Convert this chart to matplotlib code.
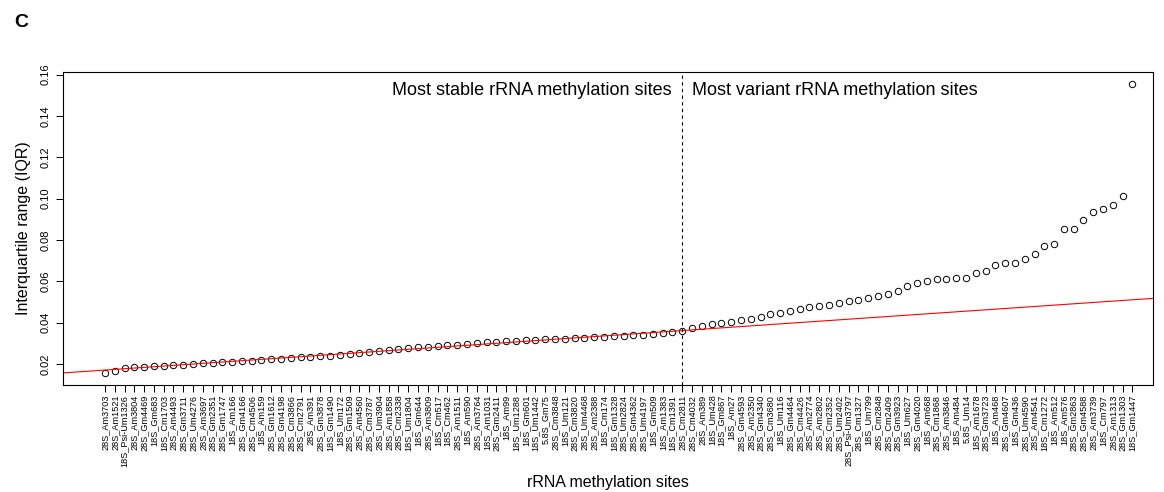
import matplotlib
matplotlib.use("Agg")
import matplotlib.pyplot as plt
import numpy as np

plt.rcParams['font.family'] = ['Liberation Sans', 'DejaVu Sans']

# site names, ordered by IQR
stable_sites = [
    "28S_Am3703", "28S_Am1521", "18S_Psi-Um1326", "28S_Am3804", "28S_Gm4469",
    "18S_Gm683", "18S_Cm1703", "28S_Am4493", "28S_Gm3711", "28S_Um4276",
    "28S_Am3697", "28S_Gm2351", "28S_Gm1747", "18S_Am166", "28S_Gm4166",
    "28S_Cm4506", "18S_Am159", "28S_Gm1612", "28S_Gm4198", "28S_Cm3866",
    "28S_Cm2791", "28S_Am391", "28S_Gm3878", "18S_Gm1490", "18S_Um172",
    "28S_Gm1509", "28S_Am4560", "28S_Cm3787", "28S_Um3904", "28S_Am1858",
    "28S_Cm2338", "18S_Um1804", "18S_Gm644", "28S_Am3809", "18S_Cm517",
    "18S_Cm462", "28S_Am1511", "18S_Am590", "28S_Am3764", "18S_Am1031",
    "28S_Gm2411", "18S_Am99", "18S_Um1288", "18S_Gm601", "18S_Um1442",
    "5.8S_Gm75", "28S_Cm3848", "18S_Um121", "28S_Cm3820", "28S_Um4468",
    "28S_Am2388", "18S_Cm174", "18S_Gm1328", "28S_Um2824", "28S_Gm4362",
    "28S_Um4197", "18S_Gm509", "18S_Am1383", "18S_Cm1391", "28S_Cm2811",
]
variant_sites = [
    "28S_Cm4032", "28S_Am389", "18S_Um428", "18S_Gm867", "18S_Am27",
    "28S_Gm4593", "28S_Am2350", "28S_Gm4340", "28S_Cm3680", "18S_Um116",
    "28S_Gm4464", "28S_Cm4426", "28S_Am2774", "28S_Am2802", "28S_Cm2352",
    "28S_Um2402", "28S_Psi-Um3797", "28S_Cm1327", "18S_Um799", "28S_Cm2848",
    "28S_Cm2409", "28S_Gm3923", "18S_Um627", "28S_Gm4020", "18S_Am668",
    "28S_Cm1868", "28S_Am3846", "18S_Am484", "5.8S_Um14", "18S_Am1678",
    "28S_Gm3723", "18S_Am468", "28S_Gm4607", "18S_Gm436", "28S_Um4590",
    "28S_Am4541", "18S_Cm1272", "18S_Am512", "18S_Am576", "28S_Gm2863",
    "28S_Gm4588", "28S_Am3739", "18S_Cm797", "28S_Am1313", "28S_Gm1303",
    "18S_Gm1447",
]

stable_iqr = [
    0.0156, 0.0167, 0.0180, 0.0184, 0.0187, 0.0189, 0.0191, 0.0194, 0.0197, 0.0199,
    0.0202, 0.0205, 0.0208, 0.0211, 0.0213, 0.0216, 0.0219, 0.0222, 0.0226, 0.0229,
    0.0232, 0.0235, 0.0238, 0.0240, 0.0243, 0.0247, 0.0252, 0.0257, 0.0263, 0.0268,
    0.0274, 0.0278, 0.0281, 0.0284, 0.0287, 0.0290, 0.0293, 0.0296, 0.0300, 0.0304,
    0.0308, 0.0311, 0.0313, 0.0315, 0.0317, 0.0319, 0.0320, 0.0322, 0.0324, 0.0326,
    0.0328, 0.0331, 0.0334, 0.0337, 0.0339, 0.0342, 0.0345, 0.0349, 0.0352, 0.0357,
]
variant_iqr = [
    0.0374, 0.0385, 0.0392, 0.0398, 0.0404, 0.0410, 0.0416, 0.0425, 0.0440, 0.0448,
    0.0456, 0.0466, 0.0475, 0.0482, 0.0487, 0.0494, 0.0502, 0.0510, 0.0519, 0.0527,
    0.0537, 0.0555, 0.0575, 0.0590, 0.0600, 0.0610, 0.0613, 0.0615, 0.0617, 0.0640,
    0.0648, 0.0680, 0.0688, 0.0690, 0.0708, 0.0733, 0.0770, 0.0780, 0.0852, 0.0855,
    0.0898, 0.0935, 0.0948, 0.0968, 0.1010, 0.1555,
]

sites = stable_sites + variant_sites
iqr = np.array(stable_iqr + variant_iqr)
x = np.arange(1, len(sites) + 1)
n_stable = len(stable_sites)

fig = plt.figure(figsize=(11.64, 4.92), dpi=100)
ax = fig.add_axes([0.054, 0.2175, 0.9365, 0.6365])

ax.plot(x, iqr, 'o', mfc='none', mec='black', ms=4.6, mew=0.7)

# linear fit on the stable sites, drawn across the whole plot
slope, intercept = np.polyfit(x[:n_stable], iqr[:n_stable], 1)
ax.axline((0, intercept), slope=slope, color='red', lw=0.8)

ax.axvline(n_stable, color='black', ls=(0, (3, 3)), lw=0.8)

ax.set_xlim(-3.3, 108.1)
ax.set_ylim(0.0098, 0.1613)
ax.set_yticks([0.02, 0.04, 0.06, 0.08, 0.10, 0.12, 0.14, 0.16])
ax.set_yticklabels(['0.02', '0.04', '0.06', '0.08', '0.10', '0.12', '0.14', '0.16'],
                   rotation=90, va='center', fontsize=8)
ax.set_xticks(x)
ax.set_xticklabels(sites, rotation=90, fontsize=6.6)
ax.tick_params(axis='both', length=5, width=0.7, direction='out')
ax.tick_params(axis='x', pad=2)
for s in ax.spines.values():
    s.set_linewidth(0.8)

ax.set_ylabel('Interquartile range (IQR)', fontsize=11.5, labelpad=7)
ax.set_xlabel('rRNA methylation sites', fontsize=11.5, labelpad=6)

ax.text(n_stable - 1.1, 0.1522, 'Most stable rRNA methylation sites',
        ha='right', va='center', fontsize=13)
ax.text(n_stable + 1.0, 0.1522, 'Most variant rRNA methylation sites',
        ha='left', va='center', fontsize=13)

fig.text(0.012, 0.955, 'C', fontsize=14, fontweight='bold', va='center')

fig.savefig('out.png', dpi=100)
